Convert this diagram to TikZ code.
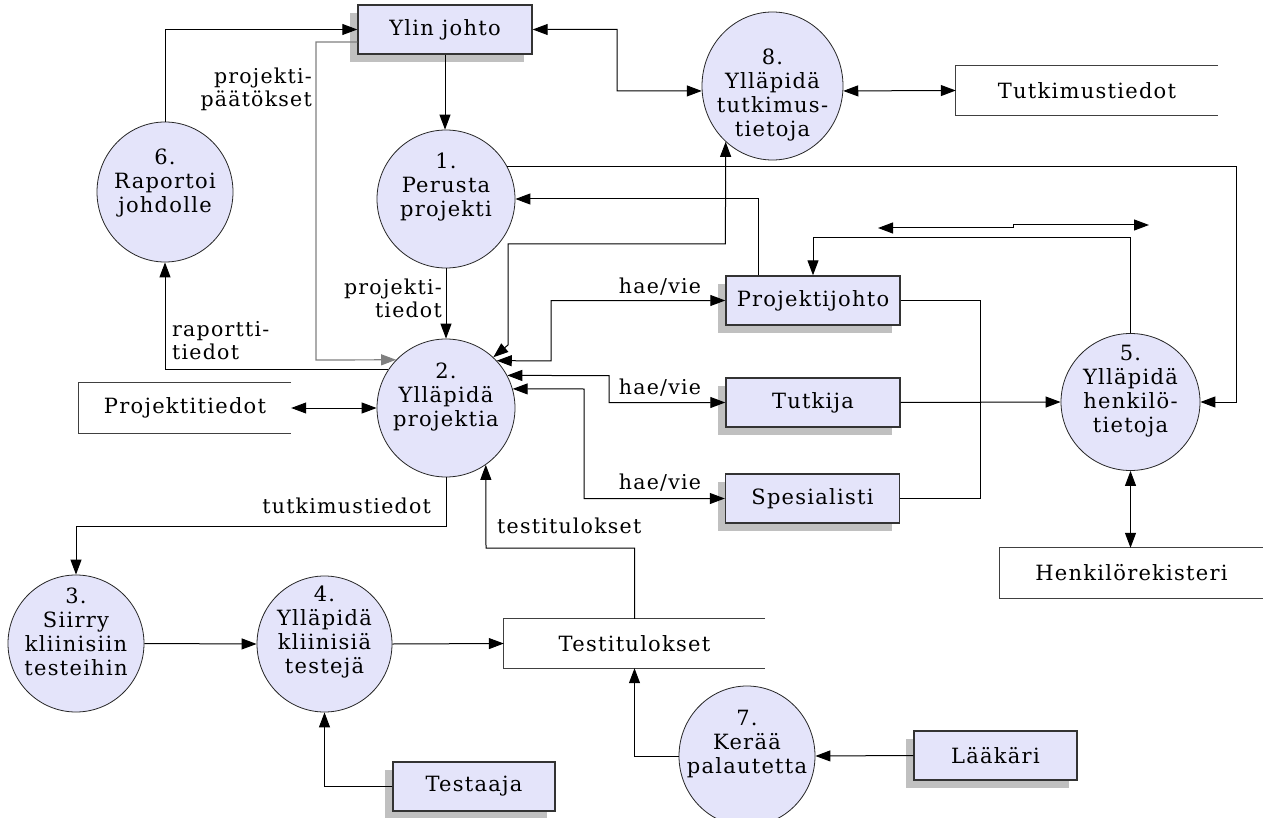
\documentclass[tikz,border=0pt]{standalone}
\usepackage{fontspec}
\setmainfont{DejaVu Serif}[LetterSpace=6]
\usetikzlibrary{arrows.meta,shapes.geometric,shadows}
\definecolor{lav}{RGB}{228,228,250}
\definecolor{shad}{RGB}{192,192,192}
\begin{document}
\begin{tikzpicture}[x=1pt,y=-1pt,
  font=\fontsize{21}{24}\selectfont,
  >={Triangle[length=15pt,width=11pt]},
  conn/.style={draw=black, line width=1pt},
  gconn/.style={draw=black!50, line width=1.2pt},
  proc/.style={ellipse, draw=black!85, line width=0.8pt, fill=lav, inner sep=0pt, minimum width=138pt, minimum height=138pt},
  ptxt/.style={align=center, inner sep=0pt},
  ent/.style={rectangle, draw=black!80, line width=1.4pt, fill=lav, inner sep=0pt, minimum width=174pt, minimum height=49pt, drop shadow={shadow xshift=-8pt, shadow yshift=-8pt, fill=shad, opacity=1}},
  store/.style={rectangle, inner sep=0pt, minimum height=49pt},
  storeline/.style={draw=black!75, line width=1.2pt},
  lbl/.style={inner sep=0pt, font=\fontsize{20.5}{23}\selectfont}]
\fill[white] (0,0) rectangle (1263,818);
\useasboundingbox (0,0) rectangle (1263,818);

% entities
\node[ent] (ylin) at (445,29.5) {Ylin johto};
\node[ent] (pj) at (813,300.5) {Projektijohto};
\node[ent] (tut) at (813,402.5) {Tutkija};
\node[ent] (spe) at (812.5,498.5) {Spesialisti};
\node[ent, minimum width=162pt] (testaaja) at (474,786.5) {Testaaja};
\node[ent, minimum width=163pt] (laak) at (995.5,755.5) {Lääkäri};

% processes
\node[proc] (p1) at (446,199) {};
\node[proc] (p2) at (446,408) {};
\node[proc, minimum width=136pt, minimum height=137pt] (p3) at (76,643.5) {};
\node[proc, minimum width=135pt, minimum height=136pt] (p4) at (324.5,644) {};
\node[proc, minimum width=139pt, minimum height=137pt] (p5) at (1130.5,402) {};
\node[proc, minimum width=136pt, minimum height=140pt] (p6) at (165,192) {};
\node[proc, minimum width=136pt, minimum height=140pt] (p7) at (747,756) {};
\node[proc, minimum width=141pt, minimum height=148pt] (p8) at (772.5,86) {};

\node[ptxt] (t1) at (446,187.5) {1.\\Perusta\\projekti};
\node[ptxt] (t2) at (446,397) {2.\\Ylläpidä\\projektia};
\node[ptxt] (t3) at (76,632) {3.\\Siirry\\kliinisiin\\testeihin};
\node[ptxt] (t4) at (324.5,632) {4.\\Ylläpidä\\kliinisiä\\testejä};
\node[ptxt] (t5) at (1130.5,391) {5.\\Ylläpidä\\henkilö-\\tietoja};
\node[ptxt] (t6) at (165,183) {6.\\Raportoi\\johdolle};
\node[ptxt] (t7) at (747,744) {7.\\Kerää\\palautetta};
\node[ptxt] (t8) at (772.5,95) {8.\\Ylläpidä\\tutkimus-\\tietoja};

% stores
\node[store, minimum width=262pt] (stut) at (1087,90.5) {Tutkimustiedot};
\node[store, minimum width=212pt, minimum height=50pt] (sproj) at (185,408) {Projektitiedot};
\node[store, minimum width=261pt] (stest) at (634.5,643.5) {Testitulokset};
\node[store, minimum width=263pt, minimum height=50pt] (shenk) at (1131.5,573) {Henkilörekisteri};
\foreach \s in {stut,sproj,stest,shenk}
  \draw[storeline] (\s.north east) -- (\s.north west) -- (\s.south west) -- (\s.south east);

% labels
\node[lbl, align=right, anchor=east] (l1) at (312,89.5) {projekti-\\päätökset};
\node[lbl, align=right, anchor=east] (l2) at (442,298.5) {projekti-\\tiedot};
\node[lbl, align=left, anchor=west] (l3) at (172,341) {raportti-\\tiedot};
\node[lbl] (l4) at (660,287) {hae/vie};
\node[lbl] (l5) at (660,388) {hae/vie};
\node[lbl] (l6) at (660,483) {hae/vie};
\node[lbl, anchor=east] (l7) at (431,506) {tutkimustiedot};
\node[lbl, anchor=west] (l8) at (497,526) {testitulokset};

% connectors
\draw[conn,->] (p6.north) |- (ylin.west);
\draw[gconn,->] ([yshift=-12.5pt]ylin.west) -| (316,360) -- (p2.136);
\draw[conn,->] (ylin.south) -- (ylin.south |- p1.north);
\draw[conn,<->] (ylin.east) -| (617,91) -- (p8.184);
\draw[conn,<->] (p8.356) -- (stut.west);
\draw[conn,<->] (p8.230) -- (725.4,244) -- (508,244) -- (508,345) -- (p2.47);
\draw[conn,->] (p1.28) -| ([xshift=36pt]p5.east) -- (p5.east);
\draw[conn,->] ([xshift=-55pt]pj.north) |- (p1.east);
\coordinate (fa) at (878,228);
\coordinate (fb) at (1149,225);
\draw[conn,<->] (fa) -- (1013,228) -- (1013,225) -- (fb);
\draw[conn,->] (p5.north) -- (1130.5,238) -| (pj.north);
\draw[conn] (pj.east) -| (980,498.5) -- (spe.east);
\draw[conn,->] (tut.east) -- (p5.west);
\draw[conn,<->] (p2.43) -- (551,360.9) -- (551,300.5) -- (pj.west);
\draw[conn,<->] (p2.28) -- (609,375.6) -- (609,402.5) -- (tut.west);
\draw[conn,<->] (p2.16) -- (584,389) -- (584,498.5) -- (spe.west);
\draw[conn,<->] (p5.south) -- (p5.south |- shenk.north);
\draw[conn,->] (p2.south) -- (446,526) -| (p3.north);
\draw[conn,->] (stest.north) -- (634.5,548) -- (486,548) -- (p2.305);
\draw[conn,->] (p3.east) -- (p4.west);
\draw[conn,->] (p4.east) -- (stest.west);
\draw[conn,->] (testaaja.west) -| (p4.south);
\draw[conn,->] (p7.west) -| (stest.south);
\draw[conn,->] (laak.west) -- (p7.east);
\draw[conn,->] (p1.south) -- (p2.north);
\draw[conn,->] (p2.146) -| (p6.south);
\draw[conn,<->] (sproj.east) -- (p2.west);
\end{tikzpicture}
\end{document}
